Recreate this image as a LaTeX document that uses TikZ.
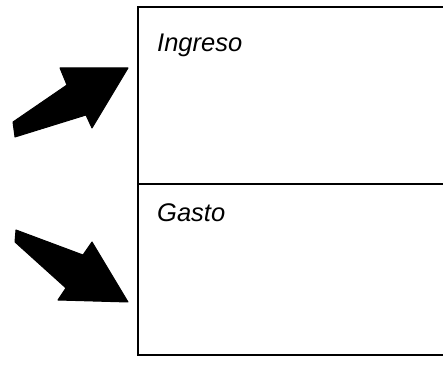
\documentclass[tikz,border=0pt]{standalone}
\usepackage{fontspec}
\setmainfont{Liberation Sans}
\begin{document}
\begin{tikzpicture}[x=1pt,y=1pt,
  frame/.style={draw=black,line width=2pt},
  label/.style={anchor=base west,inner sep=0pt,font=\itshape\fontsize{25.5}{30}\selectfont},
  bigarrow/.style={fill=black,draw=black,line width=1pt,line join=round}]
\useasboundingbox (0,0) rectangle (443,366);
\begin{scope}
\clip (0,0) rectangle (443,366);
% box
\draw[frame] (138,11) rectangle (460,359);
\draw[frame] (138,182) -- (460,182);
\end{scope}
\node[label] (ingreso) at (157,314) {Ingreso};
\node[label] (gasto) at (157,144) {Gasto};
% upper arrow (pointing up-right)
\coordinate (tipA) at (128,298);
\fill[bigarrow] (13,244) -- (67,281) -- (60,298) -- (tipA) -- (92,238) -- (86,251) -- (15,229) -- cycle;
% lower arrow (pointing down-right)
\coordinate (tipB) at (128,64);
\fill[bigarrow] (16,136) -- (83,111) -- (92,124) -- (tipB) -- (58,66) -- (66,78) -- (15,124) -- cycle;
\end{tikzpicture}
\end{document}
